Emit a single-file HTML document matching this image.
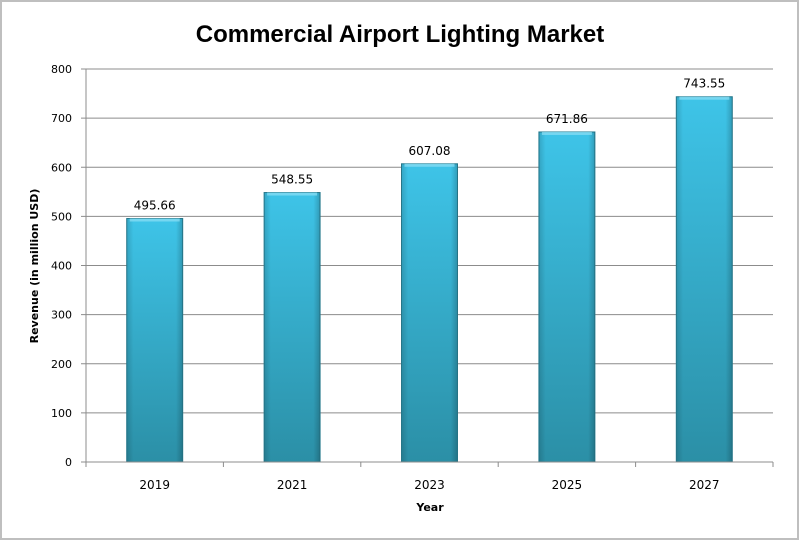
<!DOCTYPE html>
<html><head><meta charset="utf-8"><style>
body{margin:0;background:#fff}
svg{display:block;font-family:"DejaVu Sans","Liberation Sans",sans-serif}
</style></head><body>
<svg width="800" height="546" viewBox="0 0 800 546">
<defs>
<linearGradient id="g" x1="0" y1="0" x2="0" y2="1">
<stop offset="0" stop-color="#3ec4e8"/><stop offset="1" stop-color="#2b8fa6"/>
</linearGradient>
<linearGradient id="gh" x1="0" y1="0" x2="1" y2="0">
<stop offset="0" stop-color="#000" stop-opacity="0.15"/><stop offset="0.12" stop-color="#000" stop-opacity="0"/>
<stop offset="0.88" stop-color="#000" stop-opacity="0"/><stop offset="1" stop-color="#000" stop-opacity="0.2"/>
</linearGradient>
</defs>
<rect x="1" y="1" width="797" height="538" fill="#fff" stroke="#bfbfbf" stroke-width="2"/>
<text x="400" y="42" text-anchor="middle" font-family="Liberation Sans,sans-serif" font-size="24" font-weight="bold" fill="#000">Commercial Airport Lighting Market</text>
<g id="grid"></g><g id="bars"></g><g id="axes"></g>
<text transform="translate(38,266) rotate(-90)" text-anchor="middle" font-size="11" font-weight="bold">Revenue (in million USD)</text>
<text x="430" y="511" text-anchor="middle" font-size="11" font-weight="bold">Year</text>
</svg>
<script>
const categories=["2019","2021","2023","2025","2027"];
const values=[495.66,548.55,607.08,671.86,743.55];
const valueLabels=["495.66","548.55","607.08","671.86","743.55"];
const yTicks=[0,100,200,300,400,500,600,700,800];
const NS="http://www.w3.org/2000/svg";
const L=86,R=773,T=69,B=462,yMax=800;
const y=v=>B-(v/yMax)*(B-T);
const bw=(R-L)/categories.length;
const x=i=>L+bw*i+bw/2;
function mk(tag,attrs,parent,txt){const e=document.createElementNS(NS,tag);for(const k in attrs)e.setAttribute(k,attrs[k]);if(txt!=null)e.textContent=txt;parent.appendChild(e);return e;}
const grid=document.getElementById('grid'),bars=document.getElementById('bars'),axes=document.getElementById('axes');
yTicks.forEach(t=>{
 if(t>0){const g=mk('line',{x1:L,x2:R,y1:y(t),y2:y(t),stroke:'#8c8c8c','stroke-width':1},grid);
 
 }
 const tk=mk('line',{x1:L-5,x2:L,y1:y(t),y2:y(t),stroke:'#8c8c8c'},axes);
 
 
 const lb=mk('text',{x:L-14,y:y(t)+4,'text-anchor':'end','font-size':11},axes,String(t));
 
 
});
const ya=mk('line',{x1:L,x2:L,y1:T,y2:B,stroke:'#8c8c8c'},axes);


const xa=mk('line',{x1:L,x2:R,y1:B,y2:B,stroke:'#8c8c8c'},axes);


for(let i=0;i<=categories.length;i++){const t=mk('line',{x1:L+bw*i,x2:L+bw*i,y1:B,y2:B+5,stroke:'#8c8c8c'},axes);
 
 }
categories.forEach((c,i)=>{
 const w=56,top=y(values[i]);
 const g=mk('g',{},bars);
 
 
 mk('rect',{x:x(i)-w/2,y:top,width:w,height:B-top,fill:'url(#g)',stroke:'#2a7f93','stroke-width':1},g);
 mk('rect',{x:x(i)-w/2,y:top,width:w,height:B-top,fill:'url(#gh)'},g);
 mk('rect',{x:x(i)-w/2+3,y:top,width:w-6,height:3,fill:'#8fe0f5',opacity:0.7},g);
 const v=mk('text',{x:x(i),y:top-9,'text-anchor':'middle','font-size':12},bars,valueLabels[i]);
 
 
 const cl=mk('text',{x:x(i),y:B+27,'text-anchor':'middle','font-size':12},axes,c);
 
 
});
</script>
</body></html>
